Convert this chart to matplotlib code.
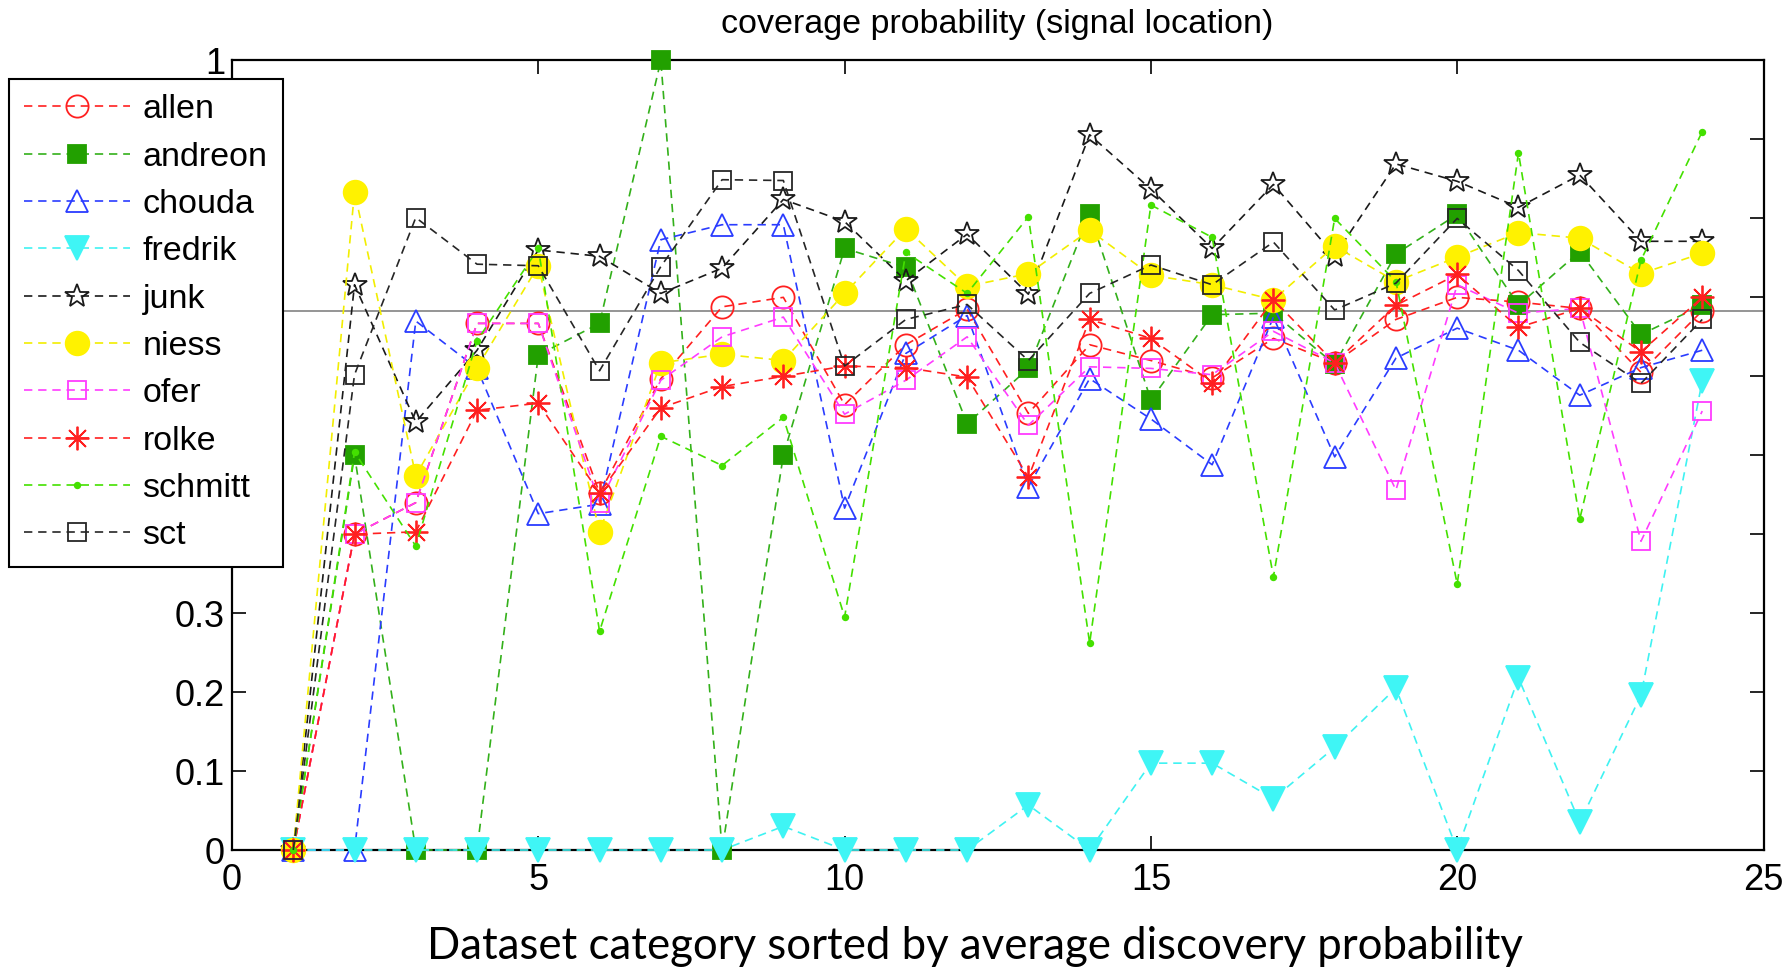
import matplotlib
matplotlib.use("Agg")
import matplotlib.pyplot as plt
import numpy as np

plt.rcParams['font.family'] = ['Liberation Sans', 'DejaVu Sans']

# dataset categories 1..24, sorted by average discovery probability
categories = list(range(1, 25))

allen = [0, 0.40, 0.44, 0.667, 0.667, 0.452, 0.597, 0.688, 0.700, 0.564, 0.640, 0.685,
         0.553, 0.640, 0.620, 0.598, 0.648, 0.617, 0.672, 0.700, 0.694, 0.686, 0.605, 0.683]
andreon = [0, 0.50, 0, 0, 0.627, 0.667, 1.0, 0, 0.50, 0.762, 0.738, 0.540,
           0.610, 0.806, 0.570, 0.678, 0.680, 0.615, 0.755, 0.805, 0.690, 0.758, 0.653, 0.690]
chouda = [0, 0, 0.670, 0.610, 0.426, 0.438, 0.773, 0.792, 0.792, 0.433, 0.629, 0.677,
          0.460, 0.597, 0.546, 0.488, 0.675, 0.498, 0.623, 0.661, 0.633, 0.576, 0.611, 0.633]
fredrik = [0, 0, 0, 0, 0, 0, 0, 0, 0.030, 0, 0, 0,
           0.057, 0, 0.110, 0.110, 0.065, 0.130, 0.205, 0, 0.218, 0.035, 0.196, 0.594]
junk = [0, 0.716, 0.542, 0.633, 0.760, 0.752, 0.705, 0.737, 0.824, 0.796, 0.721, 0.780,
        0.704, 0.906, 0.837, 0.762, 0.843, 0.753, 0.869, 0.847, 0.814, 0.855, 0.771, 0.771]
niess = [0, 0.834, 0.474, 0.611, 0.740, 0.403, 0.617, 0.628, 0.620, 0.705, 0.787, 0.714,
         0.730, 0.785, 0.728, 0.716, 0.697, 0.765, 0.720, 0.751, 0.782, 0.775, 0.730, 0.756]
ofer = [0, 0.40, 0.44, 0.667, 0.667, 0.440, 0.595, 0.650, 0.675, 0.552, 0.595, 0.650,
        0.538, 0.612, 0.610, 0.602, 0.657, 0.617, 0.456, 0.716, 0.680, 0.686, 0.391, 0.556]
rolke = [0, 0.40, 0.403, 0.557, 0.566, 0.452, 0.560, 0.587, 0.600, 0.613, 0.611, 0.599,
         0.472, 0.672, 0.648, 0.592, 0.697, 0.617, 0.690, 0.729, 0.662, 0.686, 0.631, 0.700]
schmitt = [0, 0.504, 0.385, 0.645, 0.762, 0.277, 0.524, 0.487, 0.548, 0.295, 0.757, 0.705,
           0.802, 0.262, 0.817, 0.776, 0.346, 0.800, 0.720, 0.337, 0.883, 0.419, 0.747, 0.910]
sct = [0, 0.602, 0.801, 0.742, 0.740, 0.607, 0.739, 0.849, 0.848, 0.613, 0.672, 0.691,
       0.620, 0.705, 0.741, 0.716, 0.770, 0.684, 0.718, 0.800, 0.734, 0.643, 0.591, 0.672]

nominal = 0.6827  # 1-sigma coverage

names = ["allen", "andreon", "chouda", "fredrik", "junk", "niess", "ofer", "rolke", "schmitt", "sct"]
values = [allen, andreon, chouda, fredrik, junk, niess, ofer, rolke, schmitt, sct]

styles = {
    "allen":   dict(color="#ff2020", marker="o", mfc="none", ms=16),
    "andreon": dict(color="#33b01a", marker="s", mfc="#22a000", mec="#22a000", ms=13),
    "chouda":  dict(color="#2a3cff", marker="^", mfc="none", ms=16),
    "fredrik": dict(color="#3ff2f2", marker="v", mfc="#3ff5f5", mec="#3ff5f5", ms=17),
    "junk":    dict(color="#1a1a1a", marker="*", mfc="none", ms=18),
    "niess":   dict(color="#f2ee00", marker="o", mfc="#fff200", mec="#fff200", ms=17),
    "ofer":    dict(color="#ff3cff", marker="s", mfc="none", ms=13),
    "rolke":   dict(color="#ff2020", marker=(8, 2, 0), mfc="none", ms=17),
    "schmitt": dict(color="#44e000", marker="o", mfc="#44e000", mec="#44e000", ms=4),
    "sct":     dict(color="#262626", marker="s", mfc="none", ms=13),
}

fig = plt.figure(figsize=(17.92, 9.71), dpi=100)
ax = fig.add_axes([232 / 1792, 121 / 971, 1531.5 / 1792, 789.5 / 971])

ax.axhline(nominal, color="#8c8c8c", lw=1.3, zorder=1)

for name, vals in zip(names, values):
    st = styles[name]
    ax.plot(categories, vals, linestyle="--", dashes=(5, 3.5), lw=1.2,
            mew=1.3, label=name, clip_on=False, zorder=3, **st)

ax.set_xlim(0, 25)
ax.set_ylim(0, 1)
ax.set_xticks(np.arange(0, 26, 5))
yt = np.round(np.arange(0, 1.01, 0.1), 1)
ax.set_yticks(yt)
ax.set_yticklabels(["0" if v == 0 else ("1" if v == 1 else f"{v:g}") for v in yt])
ax.tick_params(direction="in", length=10, width=1.2, top=True, right=True,
               labelsize=26)
ax.tick_params(axis="y", pad=5)
ax.tick_params(axis="x", pad=9)
for sp in ax.spines.values():
    sp.set_linewidth(1.6)

fig.text(997 / 1792, 1 - 24 / 971, "coverage probability (signal location)",
         ha="center", va="center", fontsize=24.5)

leg = ax.legend(loc="upper left", bbox_to_anchor=(9 / 1792, 1 - 79 / 971),
                bbox_transform=fig.transFigure, fontsize=24.5, frameon=True,
                fancybox=False, edgecolor="black", framealpha=1,
                handlelength=3.1, handletextpad=0.37, labelspacing=0.48,
                borderpad=0.45, borderaxespad=0)
leg.get_frame().set_linewidth(1.5)
leg.set_zorder(10)

fig.text(975 / 1792, 1 - 946 / 971, "Dataset category sorted by average discovery probability",
         ha="center", va="center", fontsize=31.5, family=["Lato", "DejaVu Sans"])

fig.savefig("out.png", dpi=100, facecolor="white")
